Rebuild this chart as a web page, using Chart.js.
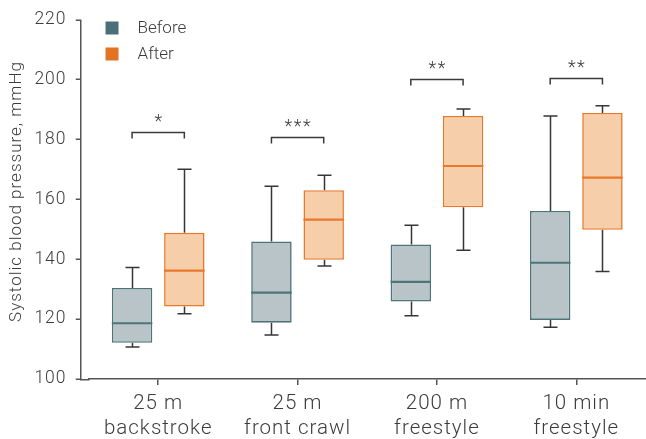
<!DOCTYPE html>
<html>
<head>
<meta charset="utf-8">
<script src="https://cdn.jsdelivr.net/npm/chart.js@4/dist/chart.umd.min.js"></script>
<style>
  html, body { margin: 0; padding: 0; background: #fff; }
  canvas { display: block; }
</style>
</head>
<body>
<canvas id="bpChart" width="646" height="439"></canvas>
<script>
// categories and box plot values (mmHg)
const categories = [['25 m', 'backstroke'], ['25 m', 'front crawl'], ['200 m', 'freestyle'], ['10 min', 'freestyle']];

const beforeMin = [110.7, 114.7, 121.1, 117.3];
const beforeQ1 = [112.1, 118.8, 125.9, 119.7];
const beforeMedian = [118.6, 128.8, 132.4, 138.8];
const beforeQ3 = [130.4, 145.9, 144.9, 156.1];
const beforeMax = [137.2, 164.3, 151.3, 187.8];

const afterMin = [121.8, 137.7, 143.0, 135.9];
const afterQ1 = [124.2, 139.8, 157.3, 149.8];
const afterMedian = [136.2, 153.2, 171.1, 167.2];
const afterQ3 = [148.8, 163.0, 187.8, 188.8];
const afterMax = [170.0, 168.0, 190.1, 191.2];

// significance brackets
const bracketLevel = [182.3, 180.8, 200.0, 200.5];
const significance = ['*', '***', '**', '**'];

const yMin = 100, yMax = 220, yStep = 20;

const FONT = "Roboto, 'Liberation Sans', sans-serif";
const TEXT = '#3c3c3c';
const AXIS = '#555';

const series = [
  { label: 'Before', min: beforeMin, q1: beforeQ1, med: beforeMedian, q3: beforeQ3, max: beforeMax,
    fill: '#b9c4c8', border: '#4c7479', swatch: '#4a7077' },
  { label: 'After', min: afterMin, q1: afterQ1, med: afterMedian, q3: afterQ3, max: afterMax,
    fill: '#f6cfaa', border: '#e8792a', swatch: '#e37322' }
];

// the source figure's fonts run a little wide
const spacing = {
  id: 'spacing',
  beforeLayout(chart) { chart.ctx.letterSpacing = '1px'; }
};

// y axis line sits a bit left of the first category slot
const axes = {
  id: 'axes',
  beforeDatasetsDraw(chart) {
    const ctx = chart.ctx, y = chart.scales.y, area = chart.chartArea;
    const ax = Math.floor(area.left - 8) + 0.75;
    const ay = chart.scales.x.top + 0.75;
    ctx.save();
    ctx.strokeStyle = AXIS;
    ctx.lineWidth = 1.5;
    ctx.beginPath();
    ctx.moveTo(ax, area.top);
    ctx.lineTo(ax, ay);
    ctx.lineTo(area.left + 1, ay);
    y.ticks.forEach(t => {
      const py = Math.round(y.getPixelForValue(t.value)) + 0.25;
      ctx.moveTo(ax - 5, py);
      ctx.lineTo(ax, py);
    });
    ctx.stroke();
    ctx.restore();
  }
};

// whiskers under the boxes, medians/brackets/legend over them
const boxPlot = {
  id: 'boxPlot',
  beforeDatasetsDraw(chart) {
    const ctx = chart.ctx, y = chart.scales.y;
    ctx.save();
    ctx.strokeStyle = '#363636';
    ctx.lineWidth = 1.5;
    series.forEach((s, d) => {
      chart.getDatasetMeta(d).data.forEach((bar, i) => {
        const x = Math.round(bar.x) + 0.5;
        const top = y.getPixelForValue(s.max[i]);
        const bot = y.getPixelForValue(s.min[i]);
        ctx.beginPath();
        ctx.moveTo(x, y.getPixelForValue(s.q3[i])); ctx.lineTo(x, top);
        ctx.moveTo(x - 7, top); ctx.lineTo(x + 7, top);
        ctx.moveTo(x, y.getPixelForValue(s.q1[i])); ctx.lineTo(x, bot);
        ctx.moveTo(x - 7, bot); ctx.lineTo(x + 7, bot);
        ctx.stroke();
      });
    });
    ctx.restore();
  },
  afterDatasetsDraw(chart) {
    const ctx = chart.ctx, y = chart.scales.y, area = chart.chartArea;
    ctx.save();
    // medians
    series.forEach((s, d) => {
      ctx.strokeStyle = s.border;
      ctx.lineWidth = 2.2;
      chart.getDatasetMeta(d).data.forEach((bar, i) => {
        const py = y.getPixelForValue(s.med[i]);
        ctx.beginPath();
        ctx.moveTo(bar.x - bar.width / 2, py);
        ctx.lineTo(bar.x + bar.width / 2, py);
        ctx.stroke();
      });
    });
    // brackets
    const b0 = chart.getDatasetMeta(0).data, b1 = chart.getDatasetMeta(1).data;
    ctx.strokeStyle = '#3a3a3a';
    ctx.lineWidth = 1.5;
    ctx.fillStyle = TEXT;
    ctx.font = '300 18px ' + FONT;
    ctx.letterSpacing = '1.5px';
    ctx.textAlign = 'center';
    ctx.textBaseline = 'alphabetic';
    bracketLevel.forEach((lvl, i) => {
      const py = Math.round(y.getPixelForValue(lvl)) + 0.5;
      const x0 = b0[i].x, x1 = b1[i].x;
      ctx.beginPath();
      ctx.moveTo(x0, py + 6); ctx.lineTo(x0, py); ctx.lineTo(x1, py); ctx.lineTo(x1, py + 6);
      ctx.stroke();
      ctx.fillText(significance[i], (x0 + x1) / 2 + 0.75, py - 6);
    });
    // legend
    ctx.letterSpacing = '0px';
    ctx.textAlign = 'left';
    ctx.textBaseline = 'middle';
    ctx.font = '300 17px ' + FONT;
    series.forEach((s, d) => {
      const lx = area.left + 17, ly = area.top + 2 + d * 26;
      ctx.fillStyle = s.swatch;
      ctx.fillRect(lx, ly, 13, 13);
      ctx.fillStyle = TEXT;
      ctx.fillText(s.label, lx + 32, ly + 7);
    });
    ctx.restore();
  }
};

new Chart(document.getElementById('bpChart'), {
  type: 'bar',
  data: {
    labels: categories,
    datasets: series.map(s => ({
      label: s.label,
      data: s.q1.map((v, i) => [v, s.q3[i]]),
      backgroundColor: s.fill,
      borderColor: s.border,
      borderWidth: 1.6,
      borderSkipped: false,
      categoryPercentage: 0.75,
      barPercentage: 0.774
    }))
  },
  options: {
    responsive: false,
    animation: false,
    devicePixelRatio: 1,
    layout: { padding: { top: 19.5, right: 0, bottom: -8, left: 7 } },
    plugins: { legend: { display: false }, tooltip: { enabled: false } },
    scales: {
      x: {
        offset: true,
        grid: { offset: false, drawOnChartArea: false, drawTicks: true, tickLength: 6, color: AXIS, lineWidth: 1.5 },
        border: { color: AXIS, width: 1.5 },
        ticks: { color: TEXT, font: { family: FONT, size: 20.5, weight: 300, lineHeight: 1.22 }, padding: 6, maxRotation: 0 }
      },
      y: {
        min: yMin, max: yMax,
        // invisible tick marks keep the labels clear of the hand-drawn axis line
        grid: { drawOnChartArea: false, drawTicks: true, tickLength: 19, color: 'rgba(0,0,0,0)' },
        border: { display: false },
        ticks: { stepSize: yStep, color: TEXT, font: { family: FONT, size: 17.5, weight: 300 }, padding: 3 },
        title: { display: true, text: '   Systolic blood pressure, mmHg', color: TEXT,
                 font: { family: FONT, size: 17, weight: 300 }, padding: { top: 0, bottom: 4 } }
      }
    }
  },
  plugins: [spacing, axes, boxPlot]
});
</script>
</body>
</html>
